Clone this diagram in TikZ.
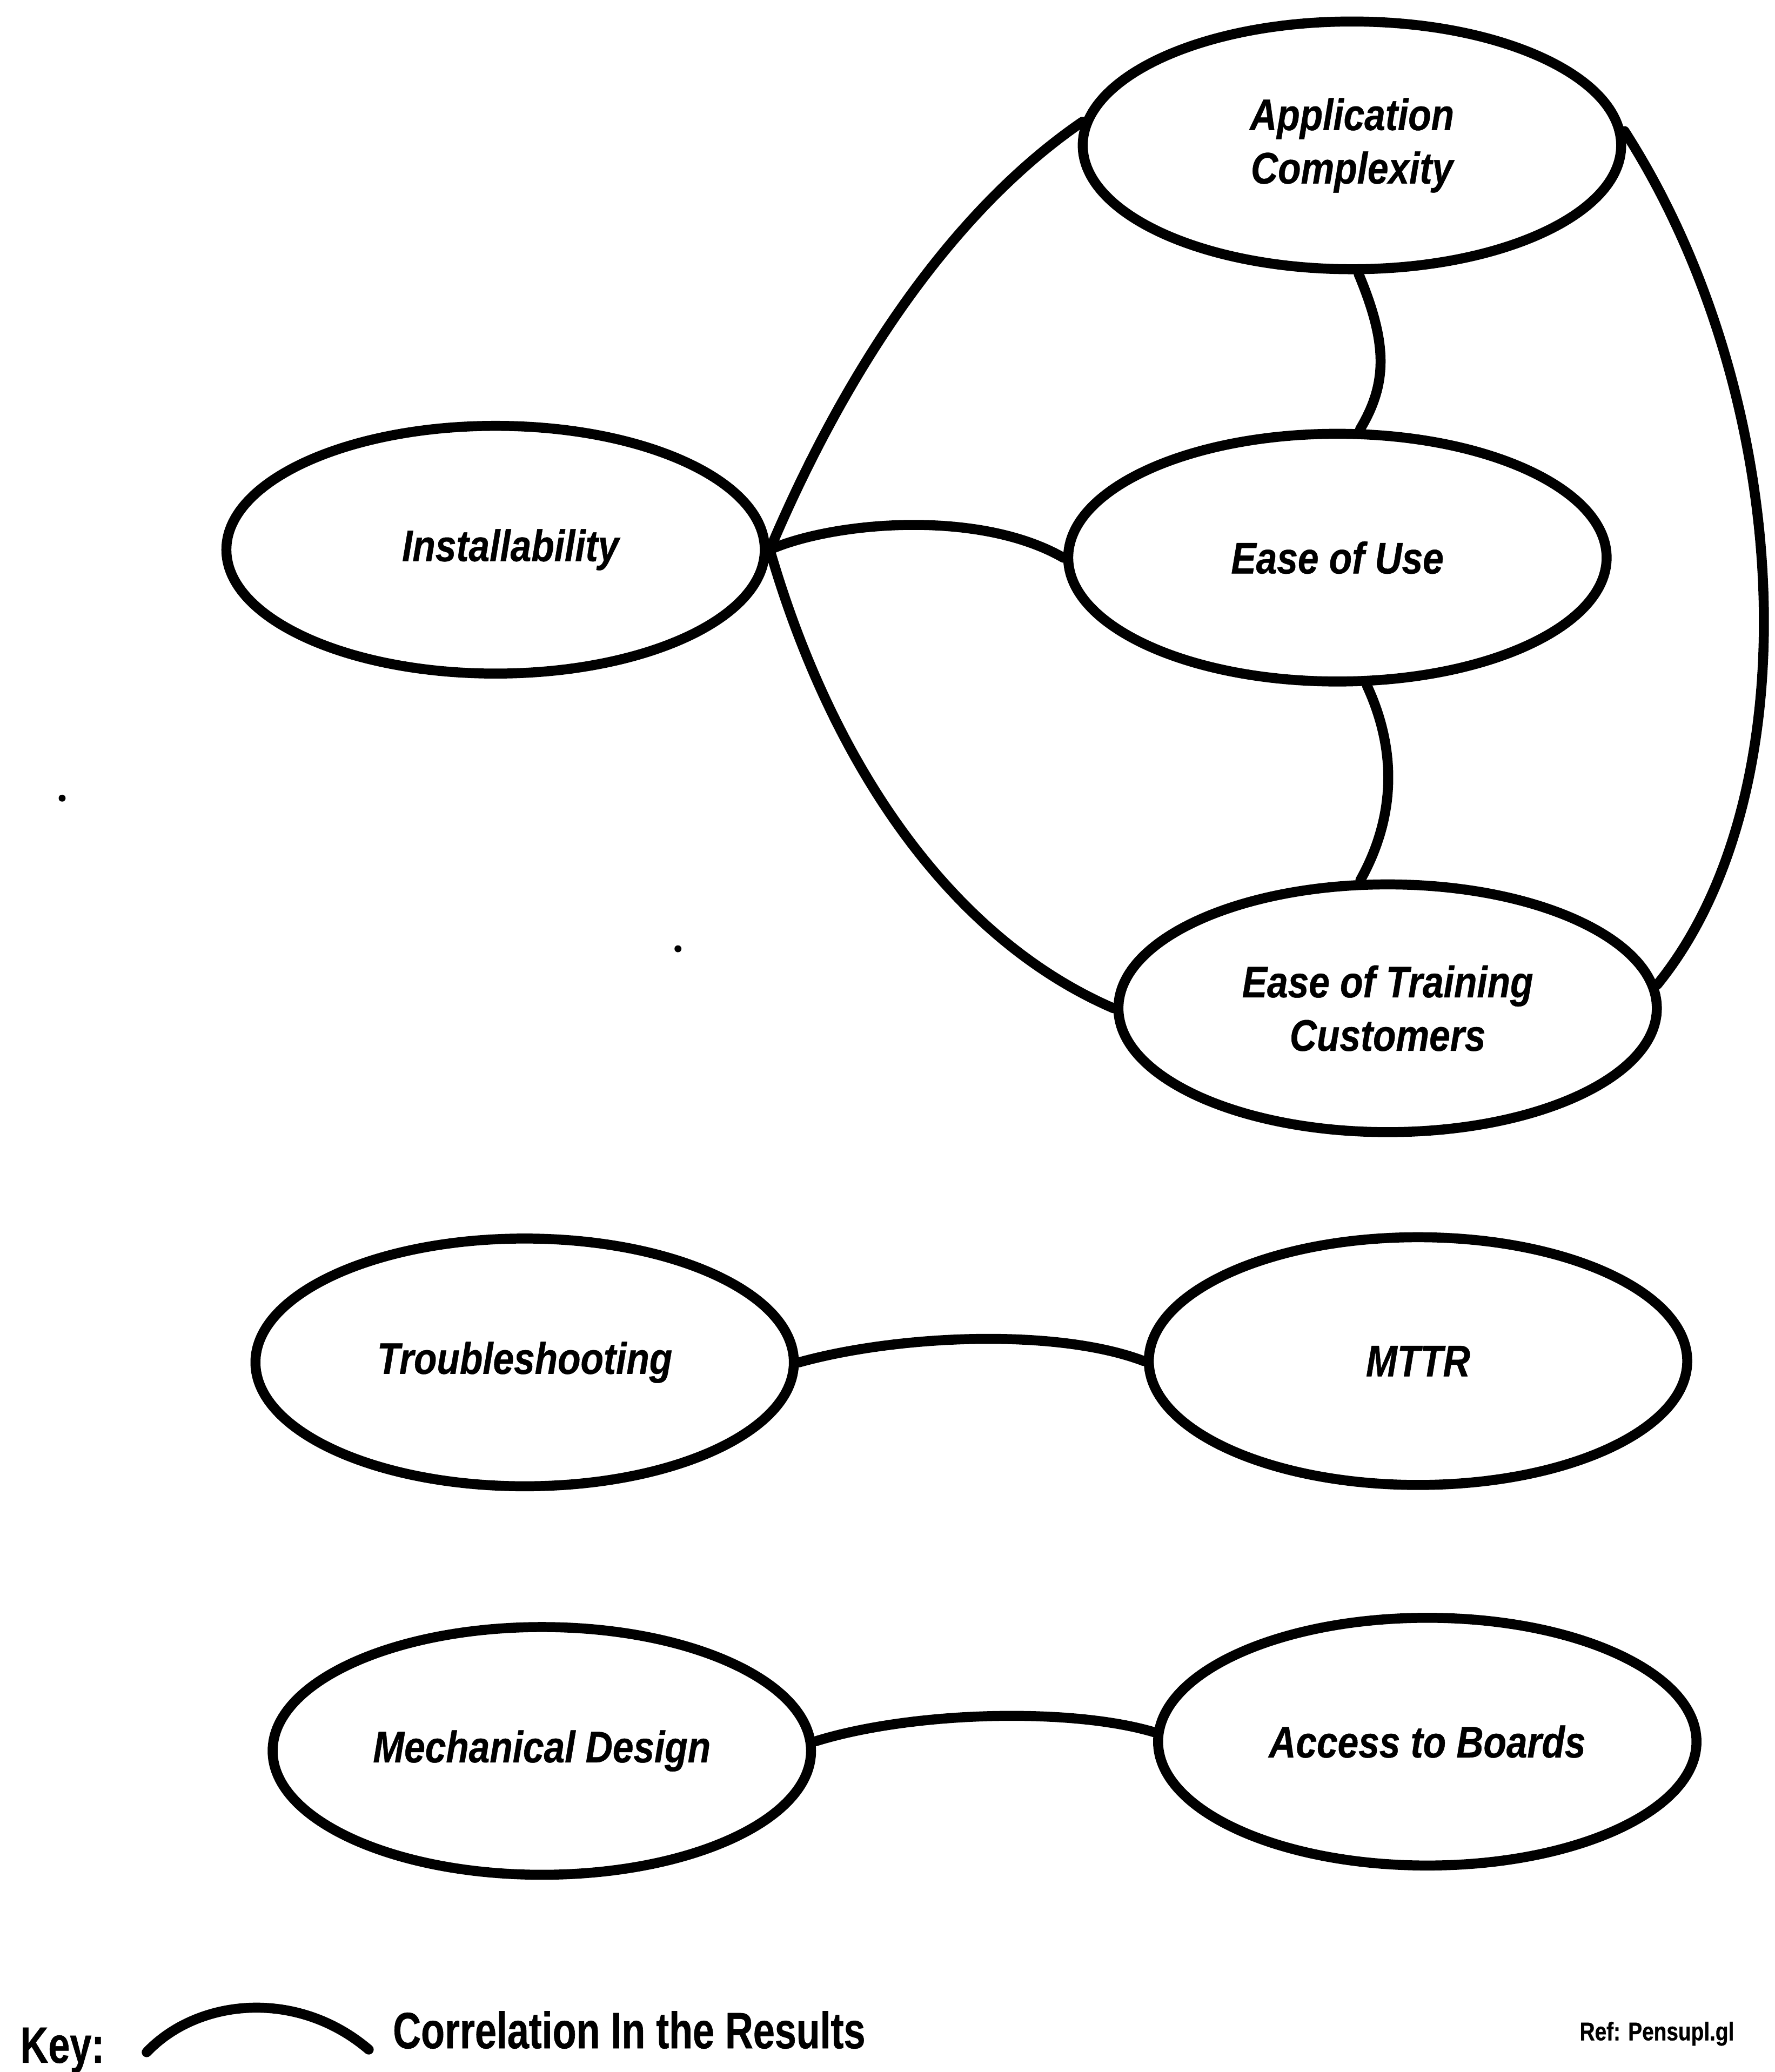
\documentclass[tikz,border=0pt]{standalone}
\usepackage{fontspec}
\setmainfont{Liberation Sans}
\newfontfamily\labelfont[FakeStretch=0.85,FakeBold=0.6]{Liberation Sans}
\newfontfamily\keyfont[FakeStretch=0.76,FakeBold=0.6]{Liberation Sans}
\newfontfamily\reffont[FakeStretch=0.82,FakeBold=0.8]{Liberation Sans}
\usetikzlibrary{shapes.geometric}

\begin{document}
\begin{tikzpicture}[x=0.02cm, y=-0.02cm,
  factor/.style={ellipse, draw, line width=4.3pt, minimum width=8.15cm,
    minimum height=3.75cm, inner sep=0pt, align=center,
    font=\labelfont\bfseries\itshape\fontsize{19}{23}\selectfont},
  link/.style={line width=4.3pt, line cap=round},
  keytext/.style={inner sep=0pt, font=\keyfont\bfseries\fontsize{22}{26}\selectfont},
  speck/.style={fill=black, draw=none, circle, inner sep=0pt, minimum size=3pt}]
\useasboundingbox (0,0) rectangle (1343,1568);

% factor ellipses
\node[factor] (app)  at (1023,110)  {Application\\Complexity};
\node[factor] (inst) at (375,416)   {\hspace*{0.45cm}Installability};
\node[factor] (eou)  at (1012,422)  {Ease of Use};
\node[factor] (etc)  at (1050,763)  {Ease of Training\\Customers};
\node[factor] (trb)  at (397,1031)  {Troubleshooting};
\node[factor] (mttr) at (1073,1030) {MTTR};
\node[factor] (mech) at (410,1325)  {Mechanical Design};
\node[factor] (acc)  at (1080,1318) {Access to Boards};

% correlations
\draw[link] (inst.east) .. controls (640,280) and (720,160) .. (app.175);
\draw[link] (inst.east) .. controls (630,395) and (740,385) .. (eou.west);
\draw[link] (inst.east) .. controls (630,580) and (720,710) .. (etc.west);
\draw[link] (app.-87) .. controls (1050,260) and (1050,290) .. (eou.80);
\draw[link] (eou.-77) .. controls (1058,570) and (1055,620) .. (etc.102);
\draw[link] (app.3) .. controls (1358,300) and (1372,600) .. (etc.5);
\draw[link] (trb.east) .. controls (680,1010) and (800,1005) .. (mttr.west);
\draw[link] (mech.2) .. controls (690,1295) and (810,1292) .. (acc.178);

% stray specks
\node[speck] (s1) at (47,604) {};
\node[speck] (s2) at (513,718) {};

% key
\node[keytext, anchor=base west] (keylbl) at (15,1561) {Key:};
\coordinate (k1) at (111,1553);
\coordinate (k2) at (279,1551);
\draw[link] (k1) .. controls (150,1512) and (225,1505) .. (k2);
\node[keytext, anchor=base west] (keydesc) at (297,1550) {Correlation In the Results};
\node[inner sep=0pt, anchor=base west, font=\reffont\bfseries\fontsize{11}{13}\selectfont] (ref) at (1195,1544) {Ref: Pensupl.gl};
\end{tikzpicture}
\end{document}
